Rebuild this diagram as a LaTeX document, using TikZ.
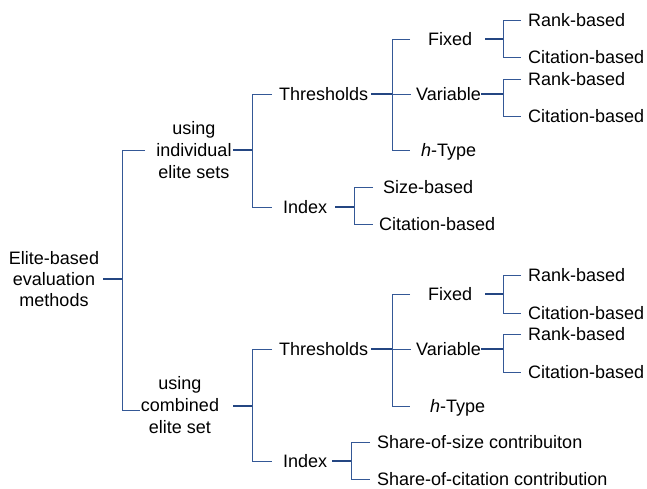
\documentclass[tikz,border=0pt]{standalone}
\usepackage{fontspec}
\setmainfont{Liberation Sans}
\definecolor{lnblue}{RGB}{52,88,150}
\definecolor{stubblue}{RGB}{36,70,130}
\begin{document}
\begin{tikzpicture}[x=1pt,y=-1pt,
  lbl/.style={inner sep=0pt,anchor=west,text height=12.9pt,text depth=0pt,font=\fontsize{18}{22}\selectfont},
  ml/.style={inner sep=0pt,align=center,anchor=center,font=\fontsize{18}{22}\selectfont},
  bus/.style={draw=lnblue,line width=0.8pt},
  stub/.style={draw=stubblue,line width=1.4pt}]
\useasboundingbox (0,0) rectangle (647,489);
% root
\node[ml,font=\fontsize{18}{21}\selectfont] (root) at (54,279) {Elite-based\\evaluation\\methods};
\node[ml] (ind) at (194,150) {using\\individual\\elite sets};
\node[ml] (com) at (180,405) {using\\combined\\elite set};
% upper
\node[lbl] (thrA) at (279,94) {Thresholds};
\node[lbl] (idxA) at (283,207) {Index};
\node[lbl] (fixA) at (428,39) {Fixed};
\node[lbl] (varA) at (416,94) {Variable};
\node[lbl] (htA) at (421,150) {\textit{h}-Type};
\node[lbl] (frA) at (528,20) {Rank-based};
\node[lbl] (fcA) at (528,57) {Citation-based};
\node[lbl] (vrA) at (528,79) {Rank-based};
\node[lbl] (vcA) at (528,116) {Citation-based};
\node[lbl] (isA) at (383,187) {Size-based};
\node[lbl] (icA) at (379,224) {Citation-based};
% lower
\node[lbl] (thrB) at (279,349) {Thresholds};
\node[lbl] (idxB) at (283,461) {Index};
\node[lbl] (fixB) at (428,294) {Fixed};
\node[lbl] (varB) at (416,349) {Variable};
\node[lbl] (htB) at (430,406) {\textit{h}-Type};
\node[lbl] (frB) at (528,275) {Rank-based};
\node[lbl] (fcB) at (528,313) {Citation-based};
\node[lbl] (vrB) at (528,334) {Rank-based};
\node[lbl] (vcB) at (528,372) {Citation-based};
\node[lbl] (isB) at (377,442) {Share-of-size contribuiton};
\node[lbl] (icB) at (377,479) {Share-of-citation contribution};
% bus coordinates
\coordinate (j0) at (122,0);
\coordinate (j1) at (252,0);
\coordinate (j2) at (392,0);
\coordinate (j3) at (503,0);
\coordinate (j4) at (354,0);
\coordinate (j5) at (351,0);
% root group
\draw[stub] ([xshift=4pt]root.east) -- (root.east -| j0);
\draw[bus] (145,150) -| (j0 |- 0,410) -- (140,410);
% upper using
\draw[stub] (233,150) -- (j1 |- 0,150);
\draw[bus] ([xshift=-7pt]thrA.west) -| (j1 |- idxA.west) -- ([xshift=-11pt]idxA.west);
% upper thresholds
\draw[stub] ([xshift=3pt]thrA.east) -- (j2 |- thrA.east);
\draw[bus] ([xshift=-18pt]fixA.west) -| (j2 |- htA.west) -- ([xshift=-11pt]htA.west);
\draw[bus] (j2 |- varA.west) -- ([xshift=-5pt]varA.west);
% upper fixed
\draw[stub] ([xshift=13pt]fixA.east) -- (j3 |- fixA.east);
\draw[bus] ([xshift=-7pt]frA.west) -| (j3 |- fcA.west) -- ([xshift=-7pt]fcA.west);
% upper variable
\draw[stub] (varA.east) -- (j3 |- varA.east);
\draw[bus] ([xshift=-7pt]vrA.west) -| (j3 |- vcA.west) -- ([xshift=-7pt]vcA.west);
% upper index
\draw[stub] ([xshift=8pt]idxA.east) -- (j4 |- idxA.east);
\draw[bus] ([xshift=-10pt]isA.west) -| (j4 |- icA.west) -- ([xshift=-6pt]icA.west);
% lower using
\draw[stub] (233,406) -- (j1 |- 0,406);
\draw[bus] ([xshift=-7pt]thrB.west) -| (j1 |- idxB.west) -- ([xshift=-11pt]idxB.west);
% lower thresholds
\draw[stub] ([xshift=3pt]thrB.east) -- (j2 |- thrB.east);
\draw[bus] ([xshift=-18pt]fixB.west) -| (j2 |- htB.west) -- ([xshift=-20pt]htB.west);
\draw[bus] (j2 |- varB.west) -- ([xshift=-5pt]varB.west);
% lower fixed
\draw[stub] ([xshift=13pt]fixB.east) -- (j3 |- fixB.east);
\draw[bus] ([xshift=-7pt]frB.west) -| (j3 |- fcB.west) -- ([xshift=-7pt]fcB.west);
% lower variable
\draw[stub] (varB.east) -- (j3 |- varB.east);
\draw[bus] ([xshift=-7pt]vrB.west) -| (j3 |- vcB.west) -- ([xshift=-7pt]vcB.west);
% lower index
\draw[stub] ([xshift=5pt]idxB.east) -- (j5 |- idxB.east);
\draw[bus] ([xshift=-7pt]isB.west) -| (j5 |- icB.west) -- ([xshift=-7pt]icB.west);
\end{tikzpicture}
\end{document}
